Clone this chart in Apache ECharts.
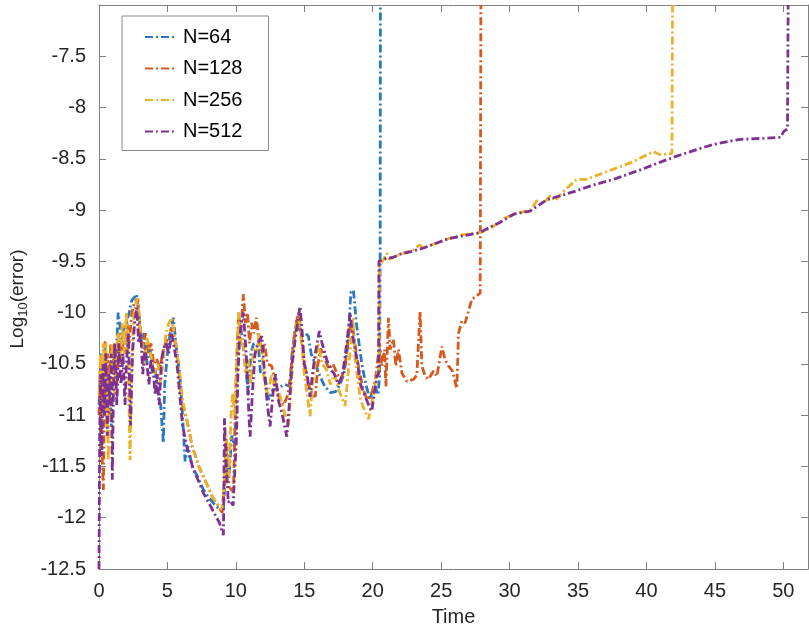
<!DOCTYPE html>
<html>
<head>
<meta charset="utf-8">
<script src="https://cdn.jsdelivr.net/npm/echarts@6/dist/echarts.min.js"></script>
<style>html,body{margin:0;padding:0;background:#fff}#c{width:809px;height:632px}</style>
</head>
<body>
<div id="c"></div>
<script>
var seriesNames = ['N=64', 'N=128', 'N=256', 'N=512'];
var xTicks = [0, 5, 10, 15, 20, 25, 30, 35, 40, 45, 50];
var yTicks = [-12.5, -12, -11.5, -11, -10.5, -10, -9.5, -9, -8.5, -8, -7.5];

var n64 = [[0,-10.9],[0.15,-10.4],[0.3,-11.0],[0.45,-10.3],[0.6,-10.9],[0.75,-10.5],[0.9,-11.1],[1.05,-10.4],[1.2,-10.6],[1.4,-10.0],[1.54,-9.99],[1.7,-10.3],[1.78,-10.17],[2.0,-10.1],[2.2,-10.0],[2.39,-9.88],[2.6,-9.85],[2.75,-9.82],[2.9,-10.0],[3.1,-10.3],[3.3,-10.2],[3.5,-10.5],[3.7,-10.3],[3.9,-10.6],[4.1,-10.55],[4.3,-10.8],[4.5,-10.9],[4.7,-11.27],[4.8,-10.7],[5.0,-10.4],[5.2,-10.2],[5.43,-10.05],[5.7,-10.4],[5.9,-10.6],[6.1,-11.0],[6.29,-11.45],[6.5,-11.3],[6.8,-11.5],[7.2,-11.6],[7.6,-11.72],[8.0,-11.8],[8.5,-11.88],[8.9,-11.93],[9.1,-11.9],[9.3,-11.4],[9.5,-11.6],[9.7,-11.2],[9.9,-11.3],[10.1,-10.7],[10.3,-10.1],[10.5,-10.3],[10.7,-10.5],[10.9,-10.8],[11.1,-10.4],[11.3,-10.3],[11.65,-10.33],[11.8,-10.6],[12.1,-10.6],[12.4,-10.85],[12.7,-10.75],[13.0,-10.75],[13.3,-10.72],[13.6,-10.7],[13.96,-10.72],[14.1,-10.4],[14.3,-10.2],[14.5,-10.05],[14.7,-10.2],[15.06,-10.2],[15.3,-10.23],[15.5,-10.4],[15.8,-10.5],[16.15,-10.62],[16.5,-10.72],[16.9,-10.78],[17.3,-10.77],[17.6,-10.7],[17.9,-10.6],[18.2,-10.3],[18.4,-9.8],[18.59,-9.78],[18.8,-10.1],[19.0,-10.3],[19.2,-10.5],[19.5,-10.7],[19.8,-10.85],[20.1,-10.7],[20.4,-10.8],[20.5,-10.6],[20.54,-9.5],[20.56,-7.0]];

var n128 = [[0,-11.0],[0.1,-10.5],[0.2,-11.3],[0.32,-11.73],[0.44,-10.28],[0.55,-10.8],[0.65,-10.4],[0.75,-11.0],[0.85,-10.3],[1.0,-10.6],[1.15,-10.3],[1.3,-10.7],[1.45,-10.2],[1.6,-10.5],[1.75,-10.3],[1.9,-10.4],[2.05,-10.1],[2.2,-10.3],[2.4,-10.0],[2.6,-9.9],[2.83,-9.86],[3.0,-10.15],[3.2,-10.35],[3.4,-10.2],[3.6,-10.4],[3.8,-10.3],[4.0,-10.5],[4.2,-10.45],[4.46,-10.54],[4.65,-10.4],[4.85,-10.3],[5.05,-10.25],[5.3,-10.15],[5.5,-10.25],[5.7,-10.4],[5.9,-10.65],[6.1,-10.9],[6.41,-11.04],[6.8,-11.3],[7.3,-11.5],[7.8,-11.65],[8.3,-11.8],[8.7,-11.88],[9.0,-11.95],[9.2,-11.6],[9.35,-11.3],[9.5,-11.7],[9.82,-11.75],[9.95,-11.0],[10.05,-10.5],[10.2,-10.0],[10.35,-10.2],[10.55,-9.82],[10.7,-10.1],[10.85,-10.0],[11.0,-10.3],[11.15,-10.1],[11.3,-10.2],[11.5,-10.05],[11.7,-10.3],[11.9,-10.4],[12.1,-10.3],[12.3,-10.5],[12.62,-10.52],[12.9,-10.7],[13.2,-10.85],[13.5,-10.9],[13.8,-10.8],[14.0,-10.6],[14.2,-10.3],[14.4,-10.1],[14.6,-10.0],[14.8,-10.25],[15.0,-10.5],[15.3,-10.7],[15.6,-10.8],[15.8,-10.82],[16.0,-10.5],[16.2,-10.35],[16.5,-10.45],[16.8,-10.55],[17.1,-10.5],[17.4,-10.6],[17.7,-10.65],[18.0,-10.5],[18.2,-10.25],[18.4,-10.1],[18.6,-10.2],[18.8,-10.4],[19.0,-10.55],[19.3,-10.75],[19.6,-10.85],[19.9,-10.8],[20.2,-10.65],[20.5,-10.3],[20.66,-10.52],[20.86,-10.36],[20.96,-10.72],[21.15,-10.05],[21.27,-10.36],[21.51,-10.26],[21.69,-10.52],[21.88,-10.36],[22.13,-10.59],[22.49,-10.67],[22.98,-10.65],[23.22,-10.61],[23.46,-9.99],[23.59,-10.52],[23.83,-10.62],[24.07,-10.65],[24.44,-10.57],[24.69,-10.62],[25.05,-10.33],[25.29,-10.46],[25.53,-10.52],[25.83,-10.57],[26.14,-10.74],[26.27,-10.2],[26.51,-10.08],[26.75,-10.1],[27.24,-9.87],[27.85,-9.81],[27.9,-7.0]];

var n256 = [[0,-10.8],[0.1,-10.4],[0.2,-11.1],[0.3,-10.3],[0.4,-10.7],[0.5,-10.3],[0.6,-11.0],[0.68,-11.44],[0.8,-10.6],[0.95,-10.3],[1.1,-10.8],[1.25,-10.4],[1.4,-10.2],[1.55,-10.5],[1.7,-10.1],[1.85,-10.4],[2.0,-10.0],[2.15,-10.6],[2.27,-11.44],[2.4,-10.5],[2.55,-10.0],[2.7,-9.9],[2.83,-9.86],[2.95,-10.1],[3.1,-10.25],[3.3,-10.5],[3.5,-10.25],[3.7,-10.35],[3.9,-10.5],[4.1,-10.6],[4.3,-10.5],[4.5,-10.7],[4.7,-10.45],[4.9,-10.2],[5.1,-10.1],[5.31,-10.05],[5.5,-10.2],[5.7,-10.4],[5.9,-10.6],[6.1,-10.85],[6.41,-11.04],[6.8,-11.3],[7.38,-11.53],[7.8,-11.65],[8.3,-11.8],[8.7,-11.88],[8.97,-11.92],[9.15,-11.7],[9.3,-11.2],[9.5,-11.6],[9.65,-11.0],[9.77,-10.78],[9.9,-11.0],[10.05,-10.5],[10.2,-10.0],[10.35,-10.3],[10.5,-10.25],[10.7,-10.6],[10.9,-10.45],[11.1,-10.7],[11.3,-10.35],[11.5,-10.4],[11.7,-10.2],[11.9,-10.4],[12.1,-10.7],[12.35,-10.8],[12.6,-10.6],[12.9,-10.75],[13.2,-10.8],[13.5,-10.95],[13.85,-11.1],[14.0,-10.8],[14.2,-10.4],[14.4,-10.1],[14.6,-10.05],[14.8,-10.3],[15.0,-10.6],[15.2,-10.8],[15.42,-11.01],[15.6,-10.7],[15.8,-10.5],[16.0,-10.3],[16.3,-10.5],[16.6,-10.55],[16.9,-10.7],[17.2,-10.6],[17.5,-10.75],[17.98,-10.91],[18.2,-10.6],[18.4,-10.3],[18.55,-10.05],[18.7,-10.43],[18.9,-10.65],[19.1,-10.85],[19.4,-10.95],[19.69,-11.04],[19.9,-10.9],[20.1,-10.75],[20.3,-10.6],[20.45,-10.55],[20.5,-9.55],[20.7,-9.5],[21.03,-9.42],[21.2,-9.48],[21.5,-9.46],[22.0,-9.43],[22.95,-9.39],[23.4,-9.34],[23.7,-9.37],[24.5,-9.33],[25.5,-9.28],[26.6,-9.24],[27.85,-9.22],[28.5,-9.18],[29.3,-9.12],[29.6,-9.08],[30.3,-9.04],[31.5,-9.0],[32.0,-8.91],[32.5,-8.93],[32.97,-8.86],[33.3,-8.91],[34.06,-8.8],[34.9,-8.7],[35.6,-8.7],[37.6,-8.6],[39.0,-8.53],[40.5,-8.43],[41.0,-8.46],[41.86,-8.45],[41.9,-7.0]];

var n512 = [[0,-12.5],[0.05,-11.2],[0.12,-10.6],[0.2,-11.4],[0.3,-10.5],[0.4,-11.0],[0.5,-10.4],[0.6,-11.2],[0.7,-10.6],[0.8,-10.9],[0.9,-10.4],[0.97,-11.63],[1.05,-10.8],[1.15,-10.3],[1.3,-10.9],[1.45,-10.3],[1.6,-10.7],[1.75,-10.4],[1.9,-10.9],[2.0,-10.5],[2.15,-10.2],[2.3,-11.1],[2.45,-10.4],[2.6,-10.1],[2.75,-9.95],[2.9,-10.3],[3.05,-10.2],[3.2,-10.6],[3.35,-10.35],[3.5,-10.5],[3.65,-10.7],[3.8,-10.45],[3.95,-10.55],[4.1,-10.8],[4.25,-10.6],[4.4,-10.9],[4.55,-10.5],[4.7,-10.35],[4.9,-10.3],[5.1,-10.4],[5.3,-10.2],[5.5,-10.35],[5.7,-10.5],[5.9,-10.8],[6.1,-11.1],[6.4,-11.3],[6.9,-11.53],[7.3,-11.65],[7.63,-11.76],[8.0,-11.85],[8.4,-11.95],[8.8,-12.05],[9.09,-12.17],[9.17,-11.03],[9.3,-11.5],[9.45,-11.85],[9.58,-11.83],[9.8,-11.88],[9.94,-11.89],[10.05,-11.2],[10.15,-10.6],[10.26,-10.26],[10.4,-10.1],[10.55,-10.0],[10.67,-10.0],[10.8,-10.5],[10.95,-11.0],[11.04,-11.21],[11.2,-10.8],[11.4,-10.4],[11.6,-10.3],[11.9,-10.23],[12.1,-10.6],[12.3,-10.9],[12.5,-11.11],[12.7,-10.8],[12.9,-10.6],[13.1,-10.85],[13.4,-11.0],[13.72,-11.21],[13.9,-10.9],[14.1,-10.5],[14.3,-10.3],[14.5,-10.1],[14.69,-9.94],[14.85,-10.2],[15.0,-10.5],[15.2,-10.6],[15.42,-10.82],[15.6,-10.6],[15.8,-10.4],[16.1,-10.18],[16.3,-10.3],[16.64,-10.46],[16.9,-10.55],[17.2,-10.6],[17.5,-10.7],[17.8,-10.6],[18.1,-10.3],[18.35,-10.0],[18.5,-10.2],[18.7,-10.35],[18.9,-10.5],[19.1,-10.7],[19.4,-10.8],[19.7,-10.9],[19.93,-10.96],[20.1,-10.8],[20.3,-10.62],[20.42,-10.6],[20.45,-9.5],[20.54,-9.5],[21.0,-9.47],[21.5,-9.46],[22.0,-9.43],[22.95,-9.4],[23.7,-9.37],[24.5,-9.33],[25.5,-9.28],[26.6,-9.25],[27.85,-9.22],[28.5,-9.17],[29.3,-9.12],[30.3,-9.04],[31.5,-9.01],[32.7,-8.9],[33.7,-8.86],[34.7,-8.82],[36.0,-8.76],[37.6,-8.7],[39.5,-8.61],[41.25,-8.52],[42.5,-8.46],[44.4,-8.38],[44.9,-8.36],[46.0,-8.33],[46.86,-8.31],[48.56,-8.3],[49.8,-8.29],[50.05,-8.23],[50.3,-8.21],[50.35,-7.0]];

var colors = ['#2B78C2', '#D65A1E', '#EAB22A', '#7E3190'];
var seriesData = [n64, n128, n256, n512];

var FONT = "'Liberation Sans', Helvetica, Arial, sans-serif";
var TXT = '#262626';
var AX = '#808080';

var chart = echarts.init(document.getElementById('c'), null, {renderer: 'canvas'});

function baseX(pos, show) {
  return {
    type: 'value', position: pos, min: 0, max: 51.8, interval: 5,
    axisLine: {show: true, onZero: false, lineStyle: {color: AX, width: 1}},
    axisTick: {show: true, inside: true, length: 7, lineStyle: {color: AX}},
    axisLabel: {show: show, color: TXT, fontSize: 20, fontFamily: FONT, margin: 12, showMaxLabel: false},
    splitLine: {show: false}
  };
}
function baseY(pos, show) {
  return {
    type: 'value', position: pos, min: -12.5, max: -7, interval: 0.5,
    axisLine: {show: true, onZero: false, lineStyle: {color: AX, width: 1}},
    axisTick: {show: true, inside: true, length: 7, lineStyle: {color: AX}},
    axisLabel: {show: show, color: TXT, fontSize: 20, fontFamily: FONT, margin: 13, showMaxLabel: false},
    splitLine: {show: false}
  };
}

var xa = baseX('bottom', true);
xa.name = 'Time';
xa.nameLocation = 'middle';
xa.nameGap = 38;
xa.nameTextStyle = {color: TXT, fontSize: 20, fontFamily: FONT};
var ya = baseY('left', true);
ya.name = 'Log{sub|10}(error)';
ya.nameLocation = 'middle';
ya.nameGap = 66;
ya.nameTextStyle = {color: TXT, fontSize: 19, fontFamily: FONT, padding: [0, 24, 0, 0],
  rich: {sub: {fontSize: 13, fontFamily: FONT, color: TXT, padding: [10, 0, 0, 0]}}};

var series = seriesNames.map(function (nm, i) {
  return {
    name: nm, type: 'line', data: seriesData[i], showSymbol: false, symbol: 'none',
    xAxisIndex: 0, yAxisIndex: 0, clip: true, animation: false,
    lineStyle: {color: colors[i], width: 2.8, type: [8, 3, 2, 3], cap: 'butt'},
    itemStyle: {color: colors[i]}
  };
});

chart.setOption({
  animation: false,
  backgroundColor: '#fff',
  grid: {left: 99, right: 1, top: 5, bottom: 63, containLabel: false},
  xAxis: [xa, baseX('top', false)],
  yAxis: [ya, baseY('right', false)],
  legend: {
    data: seriesNames, orient: 'vertical', left: 122, top: 16,
    padding: [11, 26, 9, 22], itemGap: 11.5, itemWidth: 29, itemHeight: 14,
    backgroundColor: '#fff', borderColor: '#8a8a8a', borderWidth: 1,
    itemStyle: {color: 'rgba(0,0,0,0)', borderWidth: 0, opacity: 0},
    textStyle: {color: '#000', fontSize: 20, fontFamily: FONT, lineHeight: 20, padding: [0, 0, 0, 4]}
  },
  series: series
});
</script>
</body>
</html>
